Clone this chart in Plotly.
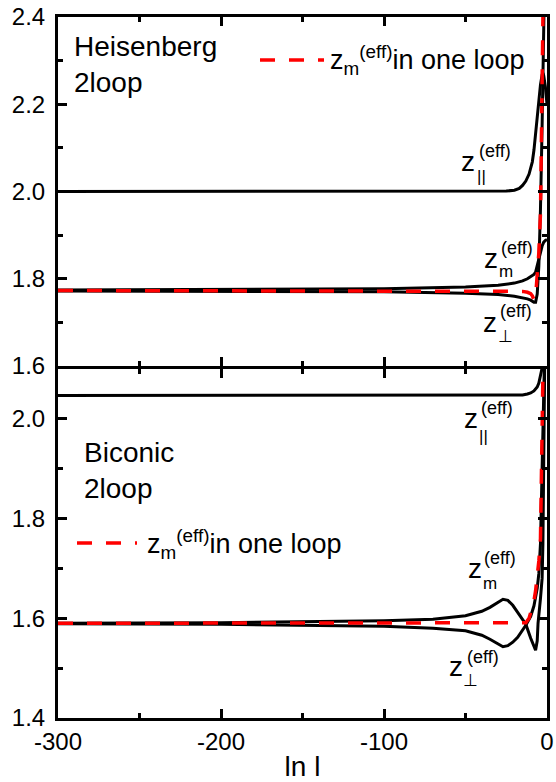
import plotly.graph_objects as go

# ---------------- data: Heisenberg 2loop (top panel) ----------------
heis_par_x = [-300, -100, -40, -25, -20, -17, -15, -13, -11, -10, -9, -8, -7, -6, -5, -4, -3, -2.5, -2, -1, 0]
heis_par_y = [2.000, 2.000, 2.000, 2.001, 2.003, 2.007, 2.014, 2.024, 2.040, 2.052, 2.068, 2.095, 2.136, 2.175, 2.21, 2.245, 2.268, 2.272, 2.265, 2.24, 2.2]

heis_m_x = [-300, -200, -100, -50, -30, -20, -15, -12, -10, -8, -7, -6, -5, -4, -3, -2, -1, 0]
heis_m_y = [1.774, 1.775, 1.777, 1.781, 1.785, 1.790, 1.795, 1.800, 1.805, 1.810, 1.815, 1.828, 1.845, 1.860, 1.875, 1.884, 1.888, 1.890]

heis_perp_x = [-300, -200, -100, -50, -30, -20, -15, -12, -10, -9, -8, -7, -6, -5, -4, -3, -2, -1]
heis_perp_y = [1.772, 1.771, 1.770, 1.767, 1.764, 1.760, 1.757, 1.754, 1.751, 1.749, 1.746, 1.746, 1.765, 1.83, 1.96, 2.15, 2.38, 2.6]

heis_one_x = [-300, -100, -30, -20, -15, -12, -10, -9, -8, -7, -6, -5, -4, -3, -2.5, -2]
heis_one_y = [1.773, 1.773, 1.773, 1.772, 1.771, 1.769, 1.766, 1.761, 1.752, 1.758, 1.80, 1.86, 1.95, 2.2, 2.4, 2.55]

# ---------------- data: Biconic 2loop (bottom panel) ----------------
bic_par_x = [-300, -100, -30, -20, -15, -12, -10, -8, -6, -5, -4, -3, -2, -1]
bic_par_y = [2.047, 2.047, 2.047, 2.047, 2.048, 2.050, 2.052, 2.056, 2.064, 2.072, 2.085, 2.102, 2.13, 2.17]

bic_m_x = [-300, -200, -100, -70, -50, -40, -35, -30, -27, -24, -21, -18, -15, -13, -10, -8, -7, -6, -5.5, -4, -3, -2.5, -2, -1.5, -1]
bic_m_y = [1.590, 1.591, 1.595, 1.598, 1.605, 1.614, 1.622, 1.633, 1.638, 1.636, 1.626, 1.612, 1.598, 1.588, 1.560, 1.541, 1.536, 1.555, 1.590, 1.64, 1.68, 1.75, 1.95, 2.1, 2.25]

bic_perp_x = [-300, -200, -100, -70, -50, -40, -35, -30, -27, -24, -21, -18, -15, -13, -10, -8, -6, -5, -4, -3, -2, -1]
bic_perp_y = [1.589, 1.588, 1.584, 1.580, 1.575, 1.566, 1.558, 1.548, 1.543, 1.545, 1.552, 1.562, 1.576, 1.586, 1.604, 1.625, 1.66, 1.69, 1.75, 1.88, 2.05, 2.2]

bic_one_x = [-300, -100, -30, -15, -13, -11, -10, -8, -7, -6, -5, -4, -3.25, -2.5, -2]
bic_one_y = [1.590, 1.590, 1.590, 1.590, 1.591, 1.600, 1.610, 1.635, 1.655, 1.68, 1.715, 1.76, 1.93, 2.10, 2.2]

x_range = [-300, 0]
x_tickvals = [-300, -200, -100, 0]
x_ticktext = ["-300", "-200", "-100", "0"]
top_y_range = [1.6, 2.4]
bot_y_range = [1.4, 2.1]

FONT = "Liberation Sans, Arial, sans-serif"
BLACK = "black"
RED = "#ff0000"

fig = go.Figure()

def black(x, y, xa, ya):
    fig.add_trace(go.Scatter(x=x, y=y, mode="lines", xaxis=xa, yaxis=ya,
                             line=dict(color=BLACK, width=3), showlegend=False, hoverinfo="skip"))

def red(x, y, xa, ya):
    fig.add_trace(go.Scatter(x=x, y=y, mode="lines", xaxis=xa, yaxis=ya,
                             line=dict(color=RED, width=3.5, dash="15px,14px"), showlegend=False, hoverinfo="skip"))

black(heis_par_x, heis_par_y, "x", "y")
black(heis_m_x, heis_m_y, "x", "y")
black(heis_perp_x, heis_perp_y, "x", "y")
red(heis_one_x, heis_one_y, "x", "y")

black(bic_par_x, bic_par_y, "x2", "y2")
black(bic_m_x, bic_m_y, "x2", "y2")
black(bic_perp_x, bic_perp_y, "x2", "y2")
red(bic_one_x, bic_one_y, "x2", "y2")

W, H = 556, 782
ML, MR, MT, MB = 58, 9, 17, 64
PW, PH = W - ML - MR, H - MT - MB
half = 1.5 / PH

def px(xp):
    return (xp - ML) / PW

def py(yp):
    return (H - MB - yp) / PH

axis_common = dict(showline=True, linecolor=BLACK, linewidth=3, mirror="ticks",
                   ticks="inside", ticklen=9, tickwidth=2.5, tickcolor=BLACK,
                   showgrid=False, zeroline=False, automargin=False,
                   tickfont=dict(family=FONT, size=24, color=BLACK))
minor_x = dict(tick0=0, dtick=50, ticks="inside", ticklen=5, tickwidth=2.5, tickcolor=BLACK)

fig.update_layout(
    width=W, height=H,
    margin=dict(l=ML, r=MR, t=MT, b=MB, autoexpand=False),
    paper_bgcolor="white", plot_bgcolor="white",
    font=dict(family=FONT, color=BLACK),
    xaxis=dict(axis_common, domain=[0, 1], anchor="y", range=x_range,
               tickmode="array", tickvals=x_tickvals, ticktext=x_ticktext,
               showticklabels=False, minor=minor_x),
    yaxis=dict(axis_common, domain=[0.5 + half, 1], anchor="x", range=top_y_range, tick0=1.6, dtick=0.2,
               tickformat=".1f", ticklabelstandoff=5,
               minor=dict(tick0=1.6, dtick=0.1, ticks="inside", ticklen=5, tickwidth=2.5, tickcolor=BLACK)),
    xaxis2=dict(axis_common, domain=[0, 1], anchor="y2", range=x_range,
                tickmode="array", tickvals=x_tickvals, ticktext=x_ticktext,
                ticklabelstandoff=0,
                title=dict(text="ln l", font=dict(family=FONT, size=28, color=BLACK), standoff=4),
                minor=minor_x),
    yaxis2=dict(axis_common, domain=[0, 0.5 - half], anchor="x2", range=bot_y_range, tick0=1.4, dtick=0.2,
                tickformat=".1f", ticklabelstandoff=5,
                minor=dict(tick0=1.4, dtick=0.1, ticks="inside", ticklen=5, tickwidth=2.5, tickcolor=BLACK)),
)

ann = []

def text(t, xp, yp, size, xanchor="left", yanchor="middle"):
    ann.append(dict(text=t, x=px(xp), y=py(yp), xref="paper", yref="paper",
                    xanchor=xanchor, yanchor=yanchor, align="left", showarrow=False,
                    font=dict(family=FONT, size=size, color=BLACK)))

# panel titles
text("Heisenberg<br>2loop", 72, 64, 28)
text("Biconic<br>2loop", 82, 470, 28)

# curve labels: (z left, z center y, eff left, eff center y, sub, sub left, sub center y)
labels = [
    (459, 161, 477, 151, "||", 475, 176),
    (482, 258, 499, 248, "m", 497, 271),
    (481, 322, 498, 311, "\u22a5", 496, 337),
    (462, 418, 479, 408, "||", 477, 436),
    (466, 568, 482, 558, "m", 481, 583),
    (447, 666, 465, 657, "\u22a5", 461, 680),
]
for zx, zy, ex, ey, sub, sx, sy in labels:
    text("z", zx, zy, 28)
    text("(eff)", ex, ey, 18)
    text(sub, sx, sy, 17)

# legends for the one-loop curve
leg_text = "z<sub>m</sub><sup>(eff)</sup>in one loop"
text(leg_text, 328, 60, 27)
text(leg_text, 145, 544, 27)

fig.update_layout(annotations=ann)

shapes = []
for x0, x1, yy in [(260, 324, 60), (77, 137, 543)]:
    shapes.append(dict(type="line", xref="paper", yref="paper",
                       x0=px(x0), x1=px(x1), y0=py(yy), y1=py(yy),
                       line=dict(color=RED, width=3.5, dash="15px,14px")))
fig.update_layout(shapes=shapes)

fig.write_html("out.html", config={"displayModeBar": False},
               post_script="document.body.style.margin='0';document.body.style.overflow='hidden';")
